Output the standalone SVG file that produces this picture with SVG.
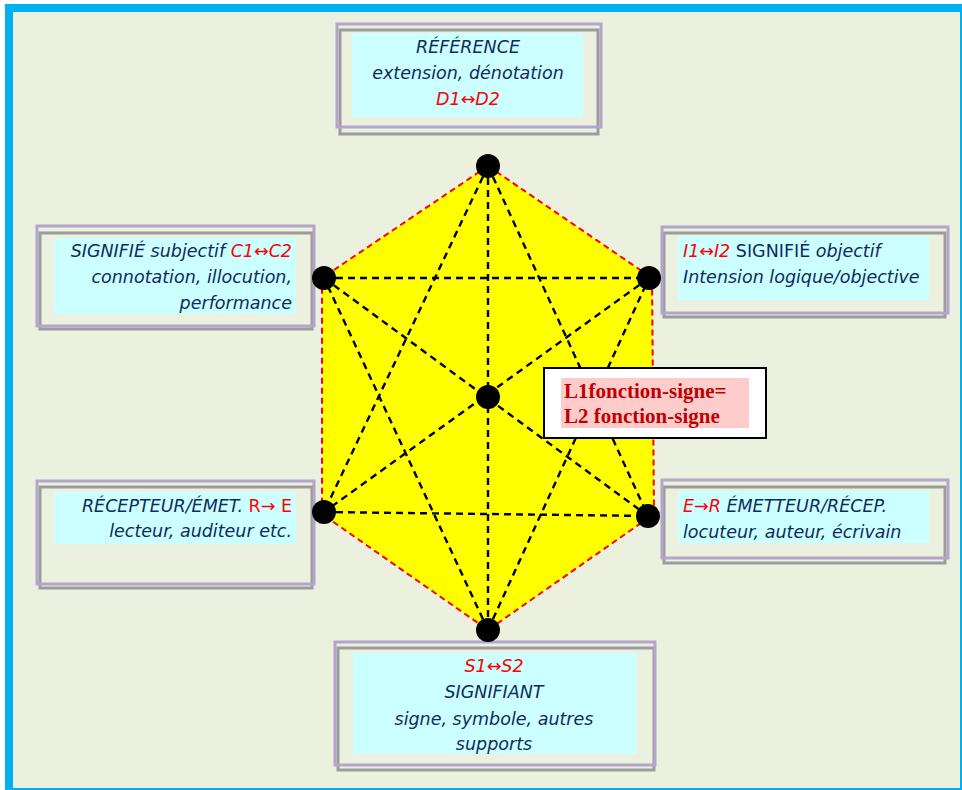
<svg xmlns="http://www.w3.org/2000/svg" width="962" height="790" viewBox="0 0 962 790">
<style>
.frame-g{fill:none;stroke:#9C9C9C;stroke-width:3}
.frame-p{fill:none;stroke:#B3A5CB;stroke-width:3}
.cyan{fill:#CCFFFF}
.t{font-family:"DejaVu Sans",Verdana,sans-serif;font-size:17.5px;font-style:italic;fill:#0F2B5B}
.r{fill:#FF0000}
.up{font-style:normal}
.edge{stroke:#000;stroke-width:2.4;stroke-dasharray:7 5;fill:none}
.dot{fill:#000}
.lbl{font-family:"Liberation Serif","Times New Roman",serif;font-weight:bold;font-size:21px;fill:#C00000}
</style>
<rect x="0" y="0" width="962" height="790" fill="#FFFFFF"/>
<rect x="5" y="4" width="962" height="790" fill="#00B0F0"/>
<rect x="13" y="12" width="947" height="776" fill="#EBF1DE"/>

<g id="hexagon">
<polygon points="488,166 652,278 654,514 488,630 322,514 322,278" fill="#FFFF00" stroke="#FF0000" stroke-width="2" stroke-dasharray="6 4"/>
</g>

<g id="connectors">
<line class="edge" x1="488" y1="166" x2="488" y2="630"/>
<line class="edge" x1="488" y1="166" x2="324" y2="512"/>
<line class="edge" x1="488" y1="166" x2="648" y2="516"/>
<line class="edge" x1="324" y1="512" x2="648" y2="516"/>
<line class="edge" x1="488" y1="630" x2="324" y2="278"/>
<line class="edge" x1="488" y1="630" x2="649" y2="278"/>
<line class="edge" x1="324" y1="278" x2="649" y2="278"/>
<line class="edge" x1="324" y1="278" x2="648" y2="516"/>
<line class="edge" x1="649" y1="278" x2="324" y2="512"/>
</g>

<g id="node-reference">
<rect class="frame-g" x="340" y="30" width="258" height="104"/>
<rect class="frame-p" x="337" y="24" width="264" height="103"/>
<rect class="cyan" x="352" y="33" width="231" height="84"/>
<text class="t" x="468" y="53" text-anchor="middle">RÉFÉRENCE</text>
<text class="t" x="468" y="79" text-anchor="middle">extension, dénotation</text>
<text class="t r" x="468" y="105" text-anchor="middle">D1↔D2</text>
</g>

<g id="node-signifie-subjectif">
<rect class="frame-g" x="40" y="233" width="272" height="96"/>
<rect class="frame-p" x="37" y="226" width="277" height="100"/>
<rect class="cyan" x="54" y="238" width="242" height="76"/>
<text class="t" x="292" y="257" text-anchor="end">SIGNIFIÉ subjectif <tspan class="r">C1↔C2</tspan></text>
<text class="t" x="292" y="283" text-anchor="end">connotation, illocution,</text>
<text class="t" x="292" y="309" text-anchor="end">performance</text>
</g>

<g id="node-signifie-objectif">
<rect class="frame-g" x="664" y="233" width="281" height="84"/>
<rect class="frame-p" x="662" y="227" width="286" height="86"/>
<rect class="cyan" x="678" y="236" width="251" height="64"/>
<text class="t" x="683" y="257"><tspan class="r">I1↔I2</tspan> <tspan class="up">SIGNIFIÉ</tspan> objectif</text>
<text class="t" x="683" y="283">Intension logique/objective</text>
</g>

<g id="node-recepteur">
<rect class="frame-g" x="40" y="487" width="272" height="101"/>
<rect class="frame-p" x="37" y="481" width="277" height="103"/>
<rect class="cyan" x="54" y="492" width="242" height="52"/>
<text class="t" x="292" y="512" text-anchor="end">RÉCEPTEUR/ÉMET. <tspan class="r up">R→ E</tspan></text>
<text class="t" x="292" y="537" text-anchor="end">lecteur, auditeur etc.</text>
</g>

<g id="node-emetteur">
<rect class="frame-g" x="664" y="487" width="281" height="76"/>
<rect class="frame-p" x="662" y="480" width="286" height="78"/>
<rect class="cyan" x="678" y="491" width="251" height="52"/>
<text class="t" x="683" y="512"><tspan class="r">E→R</tspan> ÉMETTEUR/RÉCEP.</text>
<text class="t" x="683" y="538">locuteur, auteur, écrivain</text>
</g>

<g id="node-signifiant">
<rect class="frame-g" x="338" y="648" width="316" height="122"/>
<rect class="frame-p" x="335" y="642" width="320" height="123"/>
<rect class="cyan" x="353" y="653" width="284" height="101"/>
<text class="t r" x="494" y="672" text-anchor="middle">S1↔S2</text>
<text class="t" x="494" y="698" text-anchor="middle">SIGNIFIANT</text>
<text class="t" x="494" y="725" text-anchor="middle">signe, symbole, autres</text>
<text class="t" x="494" y="750" text-anchor="middle">supports</text>
</g>

<g id="vertices">
<circle class="dot" cx="488" cy="166" r="12"/>
<circle class="dot" cx="324" cy="278" r="12"/>
<circle class="dot" cx="649" cy="278" r="12"/>
<circle class="dot" cx="488" cy="397" r="12"/>
<circle class="dot" cx="324" cy="512" r="12"/>
<circle class="dot" cx="648" cy="516" r="12"/>
<circle class="dot" cx="488" cy="630" r="12"/>
</g>

<g id="node-fonction-signe">
<rect x="544" y="368" width="222" height="70" fill="#FFFFFF" stroke="#000" stroke-width="2"/>
<rect x="561" y="378" width="188" height="50" fill="#FFCCCC"/>
<text class="lbl" x="564" y="398">L1fonction-signe=</text>
<text class="lbl" x="564" y="423">L2 fonction-signe</text>
</g>
</svg>
